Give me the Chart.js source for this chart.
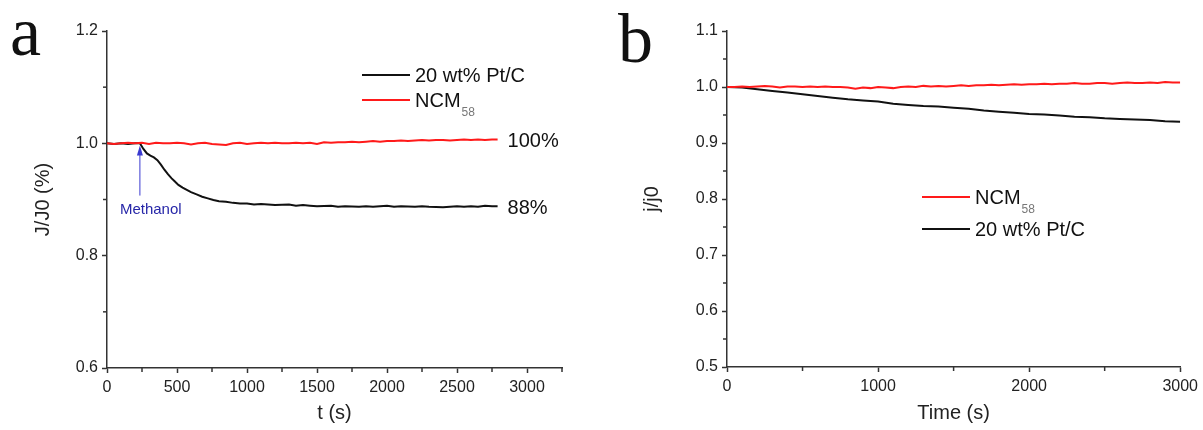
<!DOCTYPE html>
<html>
<head>
<meta charset="utf-8">
<script src="https://cdn.jsdelivr.net/npm/chart.js@4.4.0/dist/chart.umd.min.js"></script>
<style>
  html, body { margin:0; padding:0; background:#fff; }
  #wrap { position:relative; width:1203px; height:430px; }
  .panel { position:absolute; top:0; height:430px; }
  #panel-a { left:0; width:600px; }
  #panel-b { left:600px; width:603px; }
</style>
</head>
<body>
<div id="wrap">
  <div class="panel" id="panel-a"><canvas id="chart-a"></canvas></div>
  <div class="panel" id="panel-b"><canvas id="chart-b"></canvas></div>
</div>
<script>
// ---- Panel a data (methanol tolerance) ----
const timeRedA = [0,50,100,150,200,250,300,350,400,450,500,550,600,650,700,750,800,850,900,950,
  1000,1050,1100,1150,1200,1250,1300,1350,1400,1450,1500,1550,1600,1650,1700,1750,1800,1850,1900,1950,
  2000,2050,2100,2150,2200,2250,2300,2350,2400,2450,2500,2550,2600,2650,2700,2750,2790];
const redA = [1.000,0.999,1.000,1.001,1.000,1.001,0.999,1.001,1.000,1.000,1.001,1.000,0.998,1.000,1.001,0.999,0.998,0.997,1.000,1.001,
  0.999,1.000,1.001,1.000,1.001,1.000,1.000,1.001,1.000,1.001,0.999,1.002,1.001,1.002,1.002,1.003,1.002,1.003,1.004,1.003,
  1.004,1.004,1.005,1.004,1.005,1.006,1.005,1.006,1.006,1.005,1.006,1.007,1.006,1.007,1.006,1.007,1.007];

const timeBlackA = [0,50,100,150,200,235,260,285,310,335,360,385,410,435,460,485,510,540,570,600,
  640,680,720,760,800,850,900,950,1000,1050,1100,1150,1200,1300,1350,1400,1450,1500,1600,1650,
  1700,1800,1850,1900,1950,2000,2050,2100,2200,2250,2300,2400,2450,2500,2550,2600,2650,2700,2750,2790];
const blackA = [1.000,0.999,1.000,0.999,1.000,1.000,0.990,0.982,0.978,0.975,0.970,0.962,0.953,0.945,0.938,0.932,0.926,0.921,0.917,0.913,
  0.909,0.905,0.902,0.899,0.897,0.896,0.894,0.893,0.893,0.891,0.892,0.891,0.890,0.891,0.889,0.890,0.889,0.888,0.889,0.887,
  0.888,0.887,0.888,0.887,0.888,0.889,0.887,0.888,0.887,0.888,0.887,0.886,0.887,0.888,0.887,0.888,0.887,0.889,0.888,0.888];

const endLabelsA = ['100%', '88%'];
const methanolTime = 235;

const xTicksA = [0,500,1000,1500,2000,2500,3000];
const xMinorA = [250,750,1250,1750,2250,2750,3250];
const yTicksA = [0.6,0.8,1.0,1.2];
const yMinorA = [0.7,0.9,1.1];

// ---- Panel b data (stability) ----
const timeRedB = [0,50,100,150,200,250,300,350,400,450,500,550,600,650,700,750,800,850,900,950,
  1000,1050,1100,1150,1200,1250,1300,1350,1400,1450,1500,1550,1600,1650,1700,1750,1800,1850,1900,1950,
  2000,2050,2100,2150,2200,2250,2300,2350,2400,2450,2500,2550,2600,2650,2700,2750,2800,2850,2900,2950,3000];
const redB = [1.000,1.000,1.001,1.000,1.001,1.002,1.001,0.999,1.001,1.001,1.000,1.001,1.000,1.001,1.000,1.000,0.999,0.997,0.999,0.998,
  1.000,0.999,0.998,1.000,1.001,1.000,1.002,1.001,1.002,1.001,1.002,1.003,1.002,1.003,1.003,1.004,1.003,1.004,1.005,1.004,
  1.005,1.005,1.006,1.005,1.006,1.006,1.007,1.006,1.006,1.007,1.007,1.006,1.007,1.008,1.007,1.007,1.008,1.007,1.009,1.008,1.008];

const timeBlackB = [0,100,200,300,400,500,600,700,800,900,1000,1100,1200,1300,1400,1500,1600,1700,1800,1900,
  2000,2100,2200,2300,2400,2500,2600,2700,2800,2900,3000];
const blackB = [1.000,0.999,0.996,0.993,0.990,0.987,0.984,0.981,0.978,0.976,0.974,0.970,0.968,0.966,0.965,0.963,0.961,0.958,0.956,0.954,
  0.952,0.951,0.949,0.947,0.946,0.944,0.943,0.942,0.941,0.939,0.938];

const xTicksB = [0,1000,2000,3000];
const xMinorB = [500,1500,2500];
const yTicksB = [0.5,0.6,0.7,0.8,0.9,1.0,1.1];
const yMinorB = [0.55,0.65,0.75,0.85,0.95,1.05];

const labelPt = '20 wt% Pt/C';
const labelNCM = 'NCM_58';

// ---- shared styling ----
Chart.defaults.font.family = '"Liberation Sans", Arial, sans-serif';
Chart.defaults.color = '#222';

const pairs = (xs, ys) => xs.map((x, i) => ({ x: x, y: ys[i] }));

const extrasPlugin = {
  id: 'extras',
  afterDraw(chart, args, opts) {
    const ctx = chart.ctx;
    const area = chart.chartArea;
    const xs = chart.scales.x, ys = chart.scales.y;
    ctx.save();

    // minor ticks
    ctx.strokeStyle = '#333';
    ctx.lineWidth = 1.5;
    (opts.minorX || []).forEach(v => {
      const px = xs.getPixelForValue(v);
      ctx.beginPath(); ctx.moveTo(px, area.bottom); ctx.lineTo(px, area.bottom + 4); ctx.stroke();
    });
    (opts.minorY || []).forEach(v => {
      const py = ys.getPixelForValue(v);
      ctx.beginPath(); ctx.moveTo(area.left, py); ctx.lineTo(area.left - 4, py); ctx.stroke();
    });

    // panel letter
    ctx.fillStyle = '#111';
    ctx.font = '70px "Liberation Serif", "Times New Roman", serif';
    ctx.textAlign = 'left';
    ctx.textBaseline = 'alphabetic';
    ctx.fillText(opts.letter.text, opts.letter.x, opts.letter.y);

    // legend
    const lg = opts.legend;
    lg.order.forEach((di, row) => {
      const ds = chart.data.datasets[di];
      const y = lg.y + row * lg.rowGap;
      ctx.strokeStyle = ds.borderColor;
      ctx.lineWidth = 2.2;
      ctx.beginPath(); ctx.moveTo(lg.x, y); ctx.lineTo(lg.x + 48, y); ctx.stroke();
      const parts = ds.label.split('_');
      ctx.fillStyle = '#111';
      ctx.font = '20px "Liberation Sans", Arial, sans-serif';
      ctx.textBaseline = 'middle';
      ctx.fillText(parts[0], lg.x + 53, y + 1);
      if (parts[1]) {
        const w = ctx.measureText(parts[0]).width;
        ctx.fillStyle = '#777';
        ctx.font = '12px "Liberation Sans", Arial, sans-serif';
        ctx.fillText(parts[1], lg.x + 54 + w, y + 13);
      }
    });

    // end-of-curve labels
    (opts.endLabels || []).forEach((txt, di) => {
      const data = chart.data.datasets[di].data;
      const last = data[data.length - 1];
      ctx.fillStyle = '#111';
      ctx.font = '20px "Liberation Sans", Arial, sans-serif';
      ctx.textBaseline = 'middle';
      ctx.fillText(txt, xs.getPixelForValue(last.x) + 10, ys.getPixelForValue(last.y) + 2);
    });

    // methanol arrow
    if (opts.arrow) {
      const a = opts.arrow;
      const px = xs.getPixelForValue(a.t);
      const top = ys.getPixelForValue(a.from);
      const bot = ys.getPixelForValue(a.to);
      ctx.strokeStyle = '#3a3ad0';
      ctx.fillStyle = '#3a3ad0';
      ctx.lineWidth = 1;
      ctx.beginPath(); ctx.moveTo(px, bot); ctx.lineTo(px, top + 6); ctx.stroke();
      ctx.beginPath(); ctx.moveTo(px, top); ctx.lineTo(px - 3, top + 10); ctx.lineTo(px + 3, top + 10); ctx.closePath(); ctx.fill();
      ctx.fillStyle = '#2626a8';
      ctx.font = '15px "Liberation Sans", Arial, sans-serif';
      ctx.textBaseline = 'top';
      ctx.fillText(a.text, px - 20, bot + 7);
    }
    ctx.restore();
  }
};

function axisOpts(kind, o) {
  const common = {
    type: 'linear',
    min: o.min, max: o.max,
    border: { display: true, color: '#333', width: 1.5 },
    grid: { drawOnChartArea: false, drawTicks: true, tickLength: 5, tickColor: '#333', tickWidth: 1.5 },
    ticks: {
      font: { size: 16 }, color: '#222', autoSkip: false, maxRotation: 0, padding: o.tickPad,
      callback: o.fmt
    },
    afterBuildTicks: s => { s.ticks = o.ticks.map(v => ({ value: v })); },
    title: { display: true, text: o.title, font: { size: 20 }, color: '#222', padding: o.titlePad }
  };
  if (kind === 'x') common.afterFit = s => { s.height = o.size; };
  else common.afterFit = s => { s.width = o.size; };
  return common;
}

function makeChart(id, cfg) {
  const ctx = document.getElementById(id).getContext('2d');
  return new Chart(ctx, {
    type: 'line',
    data: { datasets: cfg.datasets },
    options: {
      responsive: true,
      maintainAspectRatio: false,
      animation: false,
      layout: { padding: cfg.padding },
      elements: { point: { radius: 0 }, line: { borderWidth: 2, tension: 0 } },
      scales: { x: cfg.x, y: cfg.y },
      plugins: {
        legend: { display: false },
        tooltip: { enabled: false },
        extras: cfg.extras
      }
    },
    plugins: [extrasPlugin]
  });
}

const fmt1 = v => Number(v).toFixed(1);
const fmt0 = v => String(v);

makeChart('chart-a', {
  datasets: [
    { label: labelNCM, data: pairs(timeRedA, redA), borderColor: '#ff1a1a' },
    { label: labelPt, data: pairs(timeBlackA, blackA), borderColor: '#111' }
  ],
  padding: { top: 31, right: 38, left: 0, bottom: 0 },
  x: axisOpts('x', { min: 0, max: 3250, ticks: xTicksA, fmt: fmt0, title: 't (s)', titlePad: { top: 0, bottom: 5 }, size: 62, tickPad: 5 }),
  y: axisOpts('y', { min: 0.6, max: 1.2, ticks: yTicksA, fmt: fmt1, title: 'J/J0 (%)', titlePad: { top: 31, bottom: 0 }, size: 107, tickPad: 4 }),
  extras: {
    minorX: xMinorA, minorY: yMinorA,
    letter: { text: 'a', x: 10, y: 55 },
    legend: { x: 362, y: 75, rowGap: 25, order: [1, 0] },
    endLabels: endLabelsA,
    arrow: { t: methanolTime, from: 0.996, to: 0.907, text: 'Methanol' }
  }
});

makeChart('chart-b', {
  datasets: [
    { label: labelNCM, data: pairs(timeRedB, redB), borderColor: '#ff1a1a' },
    { label: labelPt, data: pairs(timeBlackB, blackB), borderColor: '#111' }
  ],
  padding: { top: 31, right: 21, left: 0, bottom: 0 },
  x: axisOpts('x', { min: 0, max: 3000, ticks: xTicksB, fmt: fmt0, title: 'Time (s)', titlePad: { top: 0, bottom: 5 }, size: 63, tickPad: 5 }),
  y: axisOpts('y', { min: 0.5, max: 1.1, ticks: yTicksB, fmt: fmt1, title: 'j/j0', titlePad: { top: 40, bottom: 0 }, size: 127, tickPad: 4 }),
  extras: {
    minorX: xMinorB, minorY: yMinorB,
    letter: { text: 'b', x: 18, y: 62 },
    legend: { x: 322, y: 197, rowGap: 32, order: [0, 1] }
  }
});
</script>
</body>
</html>
